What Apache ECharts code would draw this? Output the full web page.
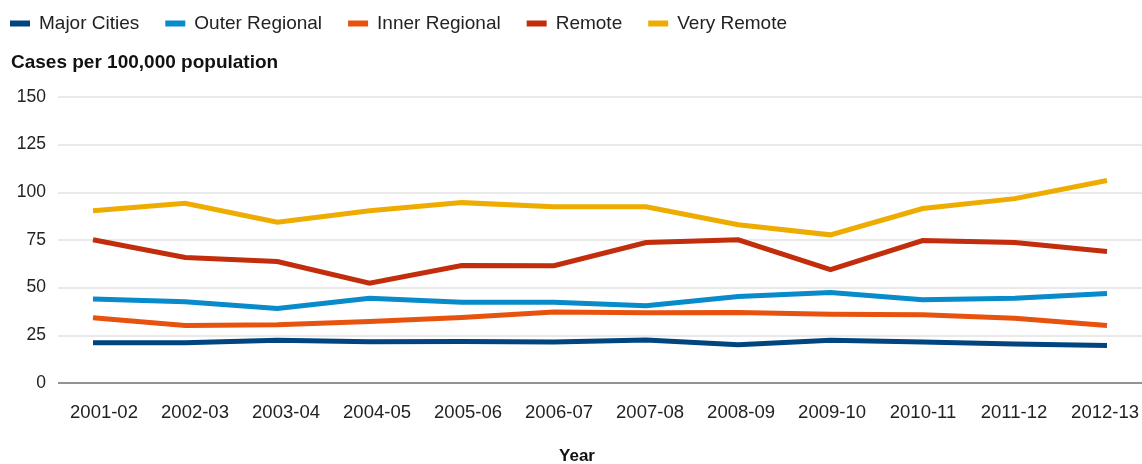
<!DOCTYPE html>
<html>
<head>
<meta charset="utf-8">
<script src="https://cdn.jsdelivr.net/npm/echarts@6/dist/echarts.min.js"></script>
<style>
  html, body { margin: 0; padding: 0; background: #fff; }
  #chart { width: 1142px; height: 464px; }
</style>
</head>
<body>
<div id="chart"></div>
<script>
const years = ['2001-02', '2002-03', '2003-04', '2004-05', '2005-06', '2006-07',
  '2007-08', '2008-09', '2009-10', '2010-11', '2011-12', '2012-13']
const majorCities = [21.1, 21.1, 22.4, 21.7, 21.8, 21.5, 22.5, 20.1, 22.4, 21.5, 20.4, 19.7]
const outerRegional = [44.0, 42.6, 39.1, 44.5, 42.3, 42.3, 40.5, 45.4, 47.5, 43.7, 44.5, 47.0]
const innerRegional = [34.2, 30.2, 30.6, 32.3, 34.4, 37.2, 36.8, 37.0, 36.0, 35.8, 33.9, 30.2]
const remote = [75.1, 65.8, 63.7, 52.4, 61.6, 61.5, 73.7, 75.1, 59.4, 74.7, 73.7, 69.0]
const veryRemote = [90.3, 94.3, 84.3, 90.3, 94.6, 92.5, 92.4, 83.0, 77.7, 91.5, 96.7, 106.2]

const font = '"Liberation Sans", Arial, sans-serif'

// 三个网格：0 背景（刻度、分隔线），1 数据线，2 只放年份标签
const chartOptions = {
  animation: false,
  textStyle: { fontFamily: font },
  legend: {
    left: 5,
    top: 9,
    itemWidth: 20,
    itemHeight: 6,
    itemGap: 26,
    icon: 'rect',
    textStyle: { fontSize: 19, color: '#222', fontFamily: font, padding: [0, 0, 0, 4] },
    data: ['Major Cities', 'Outer Regional', 'Inner Regional', 'Remote', 'Very Remote'],
  },
  title: [
    {
      text: 'Cases per 100,000 population',
      left: 11,
      top: 53,
      padding: 0,
      textStyle: { fontSize: 19, fontWeight: 'bold', color: '#111', fontFamily: font },
    },
    {
      text: 'Year',
      left: 577,
      textAlign: 'center',
      top: 448,
      padding: 0,
      textStyle: { fontSize: 17, fontWeight: 'bold', color: '#111', fontFamily: font },
    },
  ],
  grid: [
    { left: 58, right: 0, top: 97, bottom: 81 },
    { left: 93, right: 35, top: 97, bottom: 81 },
    { left: 104, right: 35, top: 97, bottom: 81 },
  ],
  xAxis: [
    {
      gridIndex: 0,
      type: 'value',
      min: 0,
      max: 1,
      show: false,
    },
    {
      gridIndex: 1,
      type: 'category',
      boundaryGap: false,
      data: years,
      show: false,
    },
    {
      gridIndex: 2,
      type: 'category',
      boundaryGap: false,
      data: years,
      axisLine: { show: false },
      axisTick: { show: false },
      axisLabel: { fontSize: 18.5, color: '#222', margin: 20, interval: 0, fontFamily: font },
    },
  ],
  yAxis: [
    {
      gridIndex: 0,
      type: 'value',
      min: 0,
      max: 150,
      interval: 25,
      axisLine: { show: false },
      axisTick: { show: false },
      axisLabel: { fontSize: 17.5, color: '#222', margin: 12, fontFamily: font },
      splitLine: { lineStyle: { color: '#e2e2e2', width: 1.5 } },
    },
    {
      gridIndex: 1,
      type: 'value',
      min: 0,
      max: 150,
      show: false,
    },
    {
      gridIndex: 2,
      type: 'value',
      min: 0,
      max: 150,
      show: false,
    },
  ],
  series: [
    {
      name: 'Major Cities',
      color: '#00457f',
      data: majorCities,
    },
    {
      name: 'Outer Regional',
      color: '#078bca',
      data: outerRegional,
    },
    {
      name: 'Inner Regional',
      color: '#e8520f',
      data: innerRegional,
    },
    {
      name: 'Remote',
      color: '#c22d0b',
      data: remote,
    },
    {
      name: 'Very Remote',
      color: '#efac00',
      data: veryRemote,
    },
  ].map(s => ({
    ...s,
    type: 'line',
    xAxisIndex: 1,
    yAxisIndex: 1,
    symbol: 'none',
    lineStyle: { width: 5, cap: 'butt', join: 'miter' },
    z: 3,
  })).concat([
    {
      // x 轴底线
      type: 'line',
      xAxisIndex: 0,
      yAxisIndex: 0,
      data: [],
      markLine: {
        silent: true,
        symbol: 'none',
        label: { show: false },
        lineStyle: { color: '#777', width: 1.5, type: 'solid' },
        data: [[{ coord: [0, 0] }, { coord: [1, 0] }]],
      },
    },
  ]),
}

const chartInstance = echarts.init(document.getElementById('chart'))
chartInstance.setOption(chartOptions)
</script>
</body>
</html>
